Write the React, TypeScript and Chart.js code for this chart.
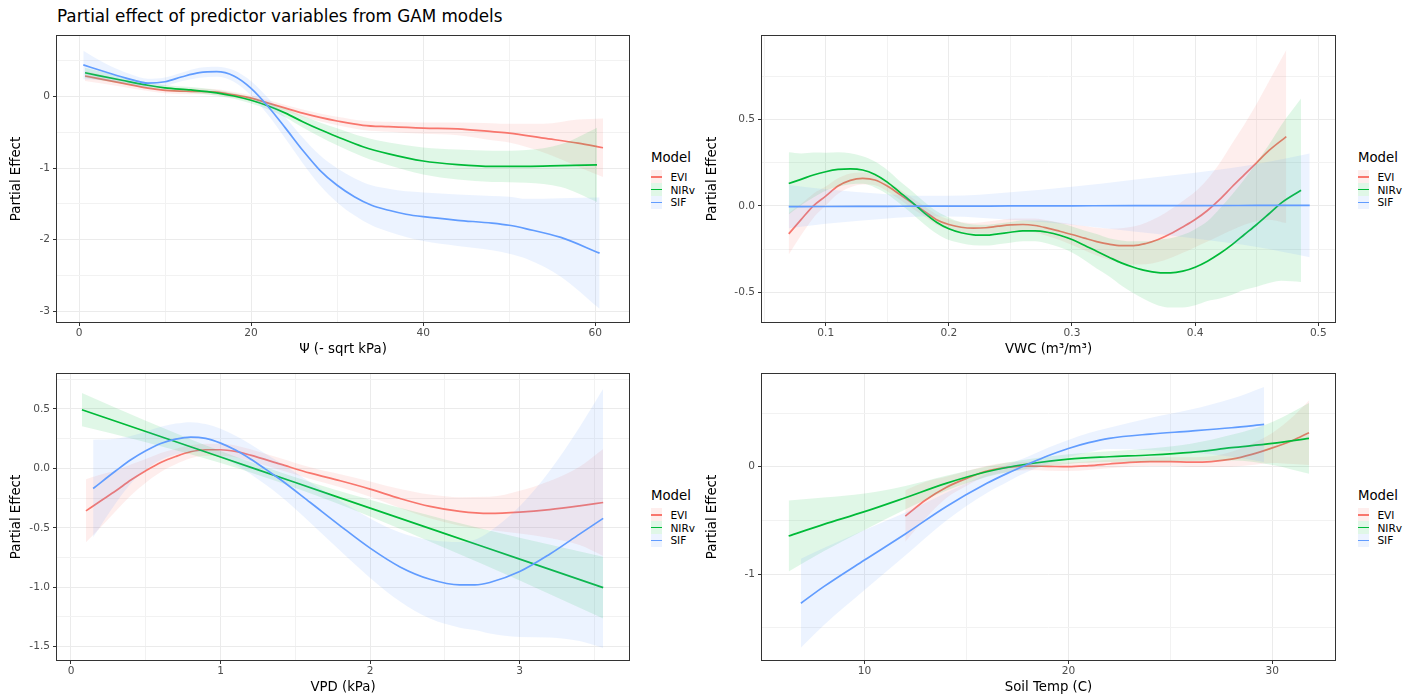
import React, { useEffect, useRef } from "react";
import { Chart, registerables } from "chart.js";

Chart.register(...registerables);

const FONT = '"DejaVu Sans", Verdana, sans-serif';
const MODELS = ["EVI", "NIRv", "SIF"];
const MODEL_COLORS = ["#F8766D", "#00BA38", "#619CFF"];
const RIBBON_ALPHA = 0.12;
const FIG_TITLE = "Partial effect of predictor variables from GAM models";
const Y_TITLE = "Partial Effect";
const LEGEND_TITLE = "Model";

// ---------- Panel 1: Ψ (- sqrt kPa)
const psiTicksX = [0, 20, 40, 60];
const psiTickLabelsX = ["0", "20", "40", "60"];
const psiMinorX = [10, 30, 50];
const psiTicksY = [-3, -2, -1, 0];
const psiTickLabelsY = ["-3", "-2", "-1", "0"];
const psiMinorY = [-2.5, -1.5, -0.5, 0.5];
const psiEviX = [0.7, 5, 8, 10, 13, 16, 18, 20, 22, 24, 26, 28, 30, 33, 36, 40, 44, 48, 50, 54, 58, 60.9];
const psiEviFit = [0.29, 0.19, 0.12, 0.09, 0.075, 0.065, 0.025, -0.02, -0.09, -0.16, -0.23, -0.29, -0.34, -0.4, -0.42, -0.44, -0.45, -0.49, -0.51, -0.58, -0.65, -0.715];
const psiEviCi = [0.07, 0.05, 0.04, 0.04, 0.04, 0.04, 0.04, 0.04, 0.04, 0.045, 0.05, 0.055, 0.06, 0.065, 0.07, 0.08, 0.09, 0.12, 0.13, 0.2, 0.33, 0.41];
const psiNirvX = [0.7, 5, 8, 10, 13, 16, 18, 20, 22, 24, 26, 28, 30, 33, 36, 40, 44, 48, 52, 56, 60.2];
const psiNirvFit = [0.335, 0.23, 0.16, 0.125, 0.095, 0.055, 0.01, -0.05, -0.13, -0.23, -0.35, -0.46, -0.56, -0.7, -0.8, -0.9, -0.95, -0.975, -0.975, -0.965, -0.953];
const psiNirvCi = [0.07, 0.05, 0.04, 0.04, 0.04, 0.04, 0.04, 0.045, 0.05, 0.06, 0.08, 0.1, 0.12, 0.14, 0.16, 0.19, 0.21, 0.22, 0.23, 0.3, 0.52];
const psiSifX = [0.5, 3, 6, 8, 10, 12, 14, 16, 18, 20, 22, 24, 26, 28, 30, 32, 34, 36, 38, 40, 44, 48, 50, 52, 56, 60.5];
const psiSifFit = [0.445, 0.35, 0.243, 0.19, 0.21, 0.28, 0.336, 0.35, 0.29, 0.117, -0.14, -0.44, -0.75, -1.03, -1.24, -1.4, -1.52, -1.59, -1.645, -1.68, -1.73, -1.77, -1.8, -1.85, -1.97, -2.19];
const psiSifCi = [0.2, 0.12, 0.07, 0.06, 0.06, 0.06, 0.07, 0.07, 0.08, 0.1, 0.12, 0.15, 0.18, 0.21, 0.24, 0.26, 0.28, 0.3, 0.32, 0.34, 0.36, 0.38, 0.4, 0.42, 0.55, 0.78];

// ---------- Panel 2: VWC (m³/m³)
const vwcTicksX = [0.1, 0.2, 0.3, 0.4, 0.5];
const vwcTickLabelsX = ["0.1", "0.2", "0.3", "0.4", "0.5"];
const vwcMinorX = [0.05, 0.15, 0.25, 0.35, 0.45];
const vwcTicksY = [-0.5, 0, 0.5];
const vwcTickLabelsY = ["-0.5", "0.0", "0.5"];
const vwcMinorY = [-0.25, 0.25, 0.75];
const vwcEviX = [0.07, 0.08, 0.09, 0.1, 0.11, 0.12, 0.13, 0.14, 0.15, 0.16, 0.17, 0.18, 0.19, 0.2, 0.21, 0.22, 0.23, 0.24, 0.25, 0.26, 0.27, 0.28, 0.29, 0.3, 0.31, 0.32, 0.33, 0.34, 0.35, 0.36, 0.37, 0.38, 0.39, 0.4, 0.41, 0.42, 0.43, 0.44, 0.45, 0.46, 0.474];
const vwcEviFit = [-0.162, -0.08, 0.0, 0.056, 0.114, 0.147, 0.158, 0.149, 0.114, 0.066, 0.017, -0.031, -0.08, -0.108, -0.124, -0.129, -0.127, -0.118, -0.11, -0.108, -0.114, -0.129, -0.147, -0.166, -0.187, -0.207, -0.222, -0.23, -0.23, -0.218, -0.195, -0.162, -0.122, -0.079, -0.027, 0.037, 0.11, 0.18, 0.25, 0.32, 0.4];
const vwcEviCi = [0.12, 0.09, 0.07, 0.055, 0.045, 0.04, 0.035, 0.03, 0.03, 0.03, 0.03, 0.03, 0.03, 0.03, 0.03, 0.03, 0.035, 0.035, 0.035, 0.035, 0.04, 0.045, 0.05, 0.06, 0.07, 0.08, 0.09, 0.1, 0.11, 0.12, 0.13, 0.14, 0.15, 0.16, 0.18, 0.21, 0.25, 0.29, 0.34, 0.4, 0.5];
const vwcNirvX = [0.07, 0.08, 0.09, 0.1, 0.11, 0.12, 0.13, 0.14, 0.15, 0.16, 0.17, 0.18, 0.19, 0.2, 0.21, 0.22, 0.23, 0.24, 0.25, 0.26, 0.27, 0.28, 0.29, 0.3, 0.31, 0.32, 0.33, 0.34, 0.35, 0.36, 0.37, 0.38, 0.39, 0.4, 0.41, 0.42, 0.43, 0.44, 0.45, 0.46, 0.47, 0.486];
const vwcNirvFit = [0.129, 0.153, 0.178, 0.197, 0.21, 0.214, 0.207, 0.181, 0.137, 0.079, 0.021, -0.041, -0.095, -0.133, -0.156, -0.168, -0.17, -0.162, -0.153, -0.145, -0.145, -0.153, -0.17, -0.195, -0.228, -0.263, -0.297, -0.33, -0.355, -0.375, -0.386, -0.388, -0.378, -0.355, -0.32, -0.276, -0.224, -0.166, -0.108, -0.046, 0.017, 0.09];
const vwcNirvCi = [0.18, 0.15, 0.13, 0.11, 0.1, 0.09, 0.08, 0.075, 0.07, 0.065, 0.065, 0.065, 0.065, 0.065, 0.06, 0.06, 0.06, 0.06, 0.06, 0.06, 0.06, 0.065, 0.07, 0.075, 0.085, 0.1, 0.11, 0.13, 0.15, 0.17, 0.19, 0.2, 0.21, 0.22, 0.23, 0.26, 0.29, 0.32, 0.36, 0.4, 0.45, 0.53];
const vwcSifX = [0.07, 0.1, 0.15, 0.18, 0.2, 0.25, 0.3, 0.35, 0.4, 0.45, 0.493];
const vwcSifFit = [-0.005, -0.004, -0.003, -0.002, -0.002, -0.001, 0.0, 0.001, 0.001, 0.002, 0.003];
const vwcSifCi = [0.125, 0.1, 0.07, 0.06, 0.06, 0.08, 0.11, 0.15, 0.19, 0.24, 0.3];

// ---------- Panel 3: VPD (kPa)
const vpdTicksX = [0, 1, 2, 3];
const vpdTickLabelsX = ["0", "1", "2", "3"];
const vpdMinorX = [0.5, 1.5, 2.5, 3.5];
const vpdTicksY = [-1.5, -1, -0.5, 0, 0.5];
const vpdTickLabelsY = ["-1.5", "-1.0", "-0.5", "0.0", "0.5"];
const vpdMinorY = [-1.25, -0.75, -0.25, 0.25, 0.75];
const vpdEviX = [0.1, 0.2, 0.3, 0.4, 0.5, 0.6, 0.7, 0.8, 0.9, 1.0, 1.1, 1.2, 1.4, 1.6, 1.8, 2.0, 2.2, 2.4, 2.6, 2.8, 3.0, 3.2, 3.4, 3.558];
const vpdEviFit = [-0.357, -0.272, -0.188, -0.098, -0.02, 0.05, 0.1, 0.14, 0.157, 0.157, 0.143, 0.112, 0.036, -0.04, -0.104, -0.174, -0.253, -0.32, -0.362, -0.379, -0.368, -0.346, -0.315, -0.287];
const vpdEviCi = [0.265, 0.22, 0.17, 0.13, 0.1, 0.08, 0.065, 0.055, 0.05, 0.05, 0.05, 0.05, 0.05, 0.05, 0.055, 0.065, 0.08, 0.1, 0.12, 0.14, 0.18, 0.24, 0.33, 0.45];
const vpdNirvX = [0.073, 0.5, 1.0, 1.5, 2.0, 2.5, 3.0, 3.558];
const vpdNirvFit = [0.494, 0.311, 0.096, -0.119, -0.334, -0.549, -0.763, -1.003];
const vpdNirvCi = [0.14, 0.09, 0.05, 0.045, 0.07, 0.12, 0.18, 0.26];
const vpdSifX = [0.148, 0.3, 0.4, 0.5, 0.6, 0.7, 0.8, 0.9, 1.0, 1.1, 1.2, 1.3, 1.4, 1.6, 1.8, 2.0, 2.2, 2.4, 2.6, 2.7, 2.8, 3.0, 3.2, 3.4, 3.558];
const vpdSifFit = [-0.169, -0.02, 0.073, 0.149, 0.21, 0.247, 0.264, 0.253, 0.213, 0.154, 0.079, -0.006, -0.093, -0.287, -0.483, -0.671, -0.829, -0.933, -0.98, -0.98, -0.96, -0.868, -0.722, -0.553, -0.42];
const vpdSifCi = [0.41, 0.27, 0.2, 0.16, 0.14, 0.13, 0.125, 0.12, 0.12, 0.12, 0.125, 0.13, 0.14, 0.17, 0.21, 0.25, 0.29, 0.33, 0.36, 0.38, 0.43, 0.55, 0.7, 0.9, 1.09];

// ---------- Panel 4: Soil Temp (C)
const stTicksX = [10, 20, 30];
const stTickLabelsX = ["10", "20", "30"];
const stMinorX = [15, 25];
const stTicksY = [-1, 0];
const stTickLabelsY = ["-1", "0"];
const stMinorY = [-1.5, -0.5, 0.5];
const stEviX = [12, 13, 14, 15, 16, 17, 18, 19, 20, 21, 22, 23, 24, 25, 26, 27, 28, 29, 30, 31, 31.8];
const stEviFit = [-0.46, -0.31, -0.193, -0.109, -0.04, -0.006, 0.006, 0.003, 0.0, 0.01, 0.025, 0.04, 0.047, 0.047, 0.043, 0.048, 0.07, 0.115, 0.175, 0.245, 0.317];
const stEviCi = [0.24, 0.17, 0.1, 0.07, 0.05, 0.045, 0.04, 0.04, 0.04, 0.04, 0.04, 0.04, 0.04, 0.04, 0.045, 0.05, 0.07, 0.1, 0.14, 0.22, 0.3];
const stNirvX = [6.28, 8, 10, 12, 14, 16, 18, 20, 22, 24, 26, 28, 30, 31.8];
const stNirvFit = [-0.646, -0.537, -0.419, -0.289, -0.155, -0.047, 0.025, 0.071, 0.093, 0.109, 0.134, 0.177, 0.217, 0.264];
const stNirvCi = [0.33, 0.25, 0.17, 0.11, 0.07, 0.05, 0.045, 0.045, 0.05, 0.06, 0.08, 0.12, 0.2, 0.33];
const stSifX = [6.88, 8, 10, 12, 14, 16, 17, 18, 19, 20, 21, 22, 24, 26, 28, 29.6];
const stSifFit = [-1.273, -1.118, -0.87, -0.627, -0.373, -0.155, -0.062, 0.022, 0.102, 0.17, 0.224, 0.264, 0.304, 0.332, 0.363, 0.394];
const stSifCi = [0.415, 0.36, 0.28, 0.2, 0.13, 0.09, 0.08, 0.07, 0.075, 0.08, 0.09, 0.1, 0.15, 0.2, 0.27, 0.35];

type Series = { model: number; x: number[]; fit: number[]; ci: number[] };
type PanelSpec = {
  xTitle: string;
  box: { L: number; T: number; R: number; B: number };
  xRange: [number, number];
  yRange: [number, number];
  xMajor: number[];
  xLabels: string[];
  xMinor: number[];
  yMajor: number[];
  yLabels: string[];
  yMinor: number[];
  series: Series[];
  yTitleOffset: number;
  legendLeft: number;
};

const PANELS: PanelSpec[] = [
  {
    xTitle: "Ψ (- sqrt kPa)",
    box: { L: 57, T: 36, R: 629, B: 322 },
    xRange: [-2.557, 63.92],
    yRange: [-3.154, 0.85],
    xMajor: psiTicksX, xLabels: psiTickLabelsX, xMinor: psiMinorX,
    yMajor: psiTicksY, yLabels: psiTickLabelsY, yMinor: psiMinorY,
    series: [
      { model: 0, x: psiEviX, fit: psiEviFit, ci: psiEviCi },
      { model: 1, x: psiNirvX, fit: psiNirvFit, ci: psiNirvCi },
      { model: 2, x: psiSifX, fit: psiSifFit, ci: psiSifCi },
    ],
    yTitleOffset: 16.3,
    legendLeft: 651,
  },
  {
    xTitle: "VWC (m³/m³)",
    box: { L: 762, T: 36, R: 1335, B: 322 },
    xRange: [0.04828, 0.51356],
    yRange: [-0.6717, 0.9815],
    xMajor: vwcTicksX, xLabels: vwcTickLabelsX, xMinor: vwcMinorX,
    yMajor: vwcTicksY, yLabels: vwcTickLabelsY, yMinor: vwcMinorY,
    series: [
      { model: 0, x: vwcEviX, fit: vwcEviFit, ci: vwcEviCi },
      { model: 1, x: vwcNirvX, fit: vwcNirvFit, ci: vwcNirvCi },
      { model: 2, x: vwcSifX, fit: vwcSifFit, ci: vwcSifCi },
    ],
    yTitleOffset: 8,
    legendLeft: 1358,
  },
  {
    xTitle: "VPD (kPa)",
    box: { L: 57, T: 374, R: 629, B: 660 },
    xRange: [-0.0936, 3.7307],
    yRange: [-1.612, 0.7945],
    xMajor: vpdTicksX, xLabels: vpdTickLabelsX, xMinor: vpdMinorX,
    yMajor: vpdTicksY, yLabels: vpdTickLabelsY, yMinor: vpdMinorY,
    series: [
      { model: 0, x: vpdEviX, fit: vpdEviFit, ci: vpdEviCi },
      { model: 1, x: vpdNirvX, fit: vpdNirvFit, ci: vpdNirvCi },
      { model: 2, x: vpdSifX, fit: vpdSifFit, ci: vpdSifCi },
    ],
    yTitleOffset: 16.3,
    legendLeft: 651,
  },
  {
    xTitle: "Soil Temp (C)",
    box: { L: 762, T: 374, R: 1335, B: 660 },
    xRange: [4.973, 33.075],
    yRange: [-1.8015, 0.864],
    xMajor: stTicksX, xLabels: stTickLabelsX, xMinor: stMinorX,
    yMajor: stTicksY, yLabels: stTickLabelsY, yMinor: stMinorY,
    series: [
      { model: 0, x: stEviX, fit: stEviFit, ci: stEviCi },
      { model: 1, x: stNirvX, fit: stNirvFit, ci: stNirvCi },
      { model: 2, x: stSifX, fit: stSifFit, ci: stSifCi },
    ],
    yTitleOffset: 8,
    legendLeft: 1358,
  },
];

const PAD_LEFT = 57; // y-axis area width
const PAD_TOP = 10;
const PAD_RIGHT = 10;
const X_AXIS_H = 38;
const AXIS_TITLE_SIZE = 13.3;
const TICK_SIZE = 10.6;

function rgba(hex: string, a: number) {
  const n = parseInt(hex.slice(1), 16);
  return `rgba(${(n >> 16) & 255},${(n >> 8) & 255},${n & 255},${a})`;
}

const borderPlugin = {
  id: "panelBorder",
  afterDatasetsDraw(chart: any) {
    const { ctx, chartArea } = chart;
    const { left, top, right, bottom } = chartArea;
    ctx.save();
    ctx.strokeStyle = "#333333";
    ctx.lineWidth = 1;
    ctx.strokeRect(left - 0.5, top - 0.5, right - left + 1, bottom - top + 1);
    ctx.restore();
  },
};

function near(list: number[], v: number) {
  return list.findIndex((m) => Math.abs(m - v) < 1e-9);
}

function axisOptions(
  range: [number, number],
  major: number[],
  labels: string[],
  minor: number[],
  horizontal: boolean,
  title: string,
  titleOffset: number
) {
  const all = [...major, ...minor].sort((a, b) => a - b);
  return {
    type: "linear",
    min: range[0],
    max: range[1],
    position: horizontal ? "bottom" : "left",
    afterBuildTicks: (scale: any) => {
      scale.ticks = all.map((v) => ({ value: v }));
    },
    afterFit: (scale: any) => {
      if (horizontal) scale.height = X_AXIS_H;
      else scale.width = PAD_LEFT;
    },
    ticks: {
      autoSkip: false,
      maxRotation: 0,
      minRotation: 0,
      padding: horizontal ? 2 : 3,
      color: "#4D4D4D",
      font: { family: FONT, size: TICK_SIZE, lineHeight: 1 },
      callback: (v: number) => {
        const i = near(major, v);
        return i >= 0 ? labels[i] : "";
      },
    },
    grid: {
      drawOnChartArea: true,
      drawTicks: true,
      tickLength: 4,
      color: (ctx: any) =>
        ctx.tick && near(minor, ctx.tick.value) >= 0 ? "#F2F2F2" : "#EBEBEB",
      lineWidth: 1,
      tickColor: (ctx: any) =>
        ctx.tick && near(minor, ctx.tick.value) >= 0 ? "rgba(0,0,0,0)" : "#333333",
      tickWidth: 1,
    },
    border: { display: false },
    title: {
      display: true,
      text: title,
      color: "#000000",
      font: { family: FONT, size: AXIS_TITLE_SIZE, lineHeight: 1 },
      padding: horizontal
        ? { top: 0, bottom: 10.5 - AXIS_TITLE_SIZE / 2 }
        : { top: titleOffset - AXIS_TITLE_SIZE / 2, bottom: 0 },
    },
  };
}

function Panel({ spec }: { spec: PanelSpec }) {
  const ref = useRef<HTMLCanvasElement>(null);
  const { L, T, R, B } = spec.box;
  const cLeft = L - PAD_LEFT;
  const cTop = T - PAD_TOP;
  const cW = R + PAD_RIGHT - cLeft;
  const cH = B + X_AXIS_H - cTop;

  useEffect(() => {
    if (!ref.current) return;
    const datasets: any[] = [];
    spec.series.forEach((s) => {
      const col = MODEL_COLORS[s.model];
      const upper = s.x.map((x, i) => ({ x, y: s.fit[i] + s.ci[i] }));
      const lower = s.x.map((x, i) => ({ x, y: s.fit[i] - s.ci[i] }));
      const fit = s.x.map((x, i) => ({ x, y: s.fit[i] }));
      datasets.push({
        label: MODELS[s.model] + " upper",
        data: upper,
        borderWidth: 0,
        borderColor: "rgba(0,0,0,0)",
        pointRadius: 0,
        fill: false,
        cubicInterpolationMode: "monotone",
      });
      datasets.push({
        label: MODELS[s.model] + " lower",
        data: lower,
        borderWidth: 0,
        borderColor: "rgba(0,0,0,0)",
        backgroundColor: rgba(col, RIBBON_ALPHA),
        pointRadius: 0,
        fill: "-1",
        cubicInterpolationMode: "monotone",
      });
      datasets.push({
        label: MODELS[s.model],
        data: fit,
        borderWidth: 1.7,
        borderColor: col,
        pointRadius: 0,
        fill: false,
        cubicInterpolationMode: "monotone",
      });
    });
    datasets.forEach((d, i) => (d.order = 100 - i));

    const chart = new Chart(ref.current, {
      type: "line",
      data: { datasets },
      options: {
        animation: false,
        responsive: false,
        maintainAspectRatio: false,
        events: [],
        layout: { padding: { left: 0, top: PAD_TOP, right: PAD_RIGHT, bottom: 0 } },
        plugins: {
          legend: { display: false },
          tooltip: { enabled: false },
          title: { display: false },
        },
        scales: {
          x: axisOptions(spec.xRange, spec.xMajor, spec.xLabels, spec.xMinor, true, spec.xTitle, 0),
          y: axisOptions(spec.yRange, spec.yMajor, spec.yLabels, spec.yMinor, false, Y_TITLE, spec.yTitleOffset),
        },
      } as any,
      plugins: [borderPlugin],
    });
    return () => chart.destroy();
  }, [spec]);

  return (
    <canvas
      ref={ref}
      width={cW}
      height={cH}
      style={{ position: "absolute", left: cLeft, top: cTop, width: cW, height: cH }}
    />
  );
}

function Legend({ spec }: { spec: PanelSpec }) {
  const cy = (spec.box.T + spec.box.B) / 2;
  const left = spec.legendLeft;
  const keyW = 11;
  const keyH = 12.8;
  return (
    <>
      <div
        style={{
          position: "absolute",
          left,
          top: cy - 21.3 - 10,
          height: 20,
          lineHeight: "20px",
          fontSize: AXIS_TITLE_SIZE,
          fontFamily: FONT,
          color: "#000",
          whiteSpace: "nowrap",
        }}
      >
        {LEGEND_TITLE}
      </div>
      {MODELS.map((m, i) => {
        const ky = cy - 2.3 + i * 12.85;
        const col = MODEL_COLORS[i];
        return (
          <React.Fragment key={m}>
            <div
              style={{
                position: "absolute",
                left,
                top: ky - keyH / 2,
                width: keyW,
                height: keyH,
                background: rgba(col, RIBBON_ALPHA),
              }}
            />
            <div
              style={{
                position: "absolute",
                left,
                top: ky - 0.85,
                width: keyW,
                height: 1.7,
                background: col,
              }}
            />
            <div
              style={{
                position: "absolute",
                left: left + 19.4,
                top: ky - 8,
                height: 16,
                lineHeight: "16px",
                fontSize: TICK_SIZE,
                fontFamily: FONT,
                color: "#000",
                whiteSpace: "nowrap",
              }}
            >
              {m}
            </div>
          </React.Fragment>
        );
      })}
    </>
  );
}

export default function App() {
  return (
    <div
      style={{
        position: "absolute",
        left: 0,
        top: 0,
        width: 1418,
        height: 698,
        background: "#fff",
        overflow: "hidden",
        fontFamily: FONT,
      }}
    >
      <div
        style={{
          position: "absolute",
          left: 57,
          top: 5.3,
          height: 22,
          lineHeight: "22px",
          fontSize: 16.8,
          color: "#000",
          whiteSpace: "nowrap",
        }}
      >
        {FIG_TITLE}
      </div>
      {PANELS.map((p, i) => (
        <React.Fragment key={i}>
          <Panel spec={p} />
          <Legend spec={p} />
        </React.Fragment>
      ))}
    </div>
  );
}
